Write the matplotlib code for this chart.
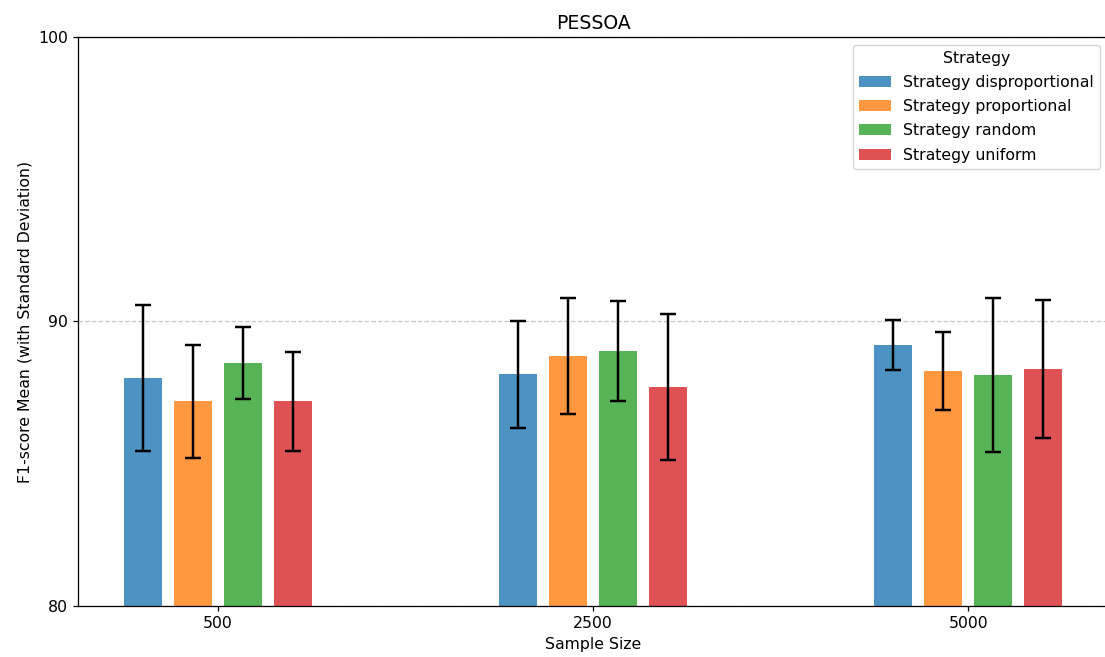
import matplotlib
matplotlib.use("Agg")
import matplotlib.pyplot as plt
import numpy as np

sample_sizes = ["500", "2500", "5000"]
strategies = ["Strategy disproportional", "Strategy proportional", "Strategy random", "Strategy uniform"]
means = {
    "Strategy disproportional": [88.02, 88.15, 89.17],
    "Strategy proportional": [87.20, 88.79, 88.26],
    "Strategy random": [88.54, 88.96, 88.12],
    "Strategy uniform": [87.20, 87.70, 88.33],
}
stds = {
    "Strategy disproportional": [2.56, 1.88, 0.88],
    "Strategy proportional": [1.99, 2.04, 1.37],
    "Strategy random": [1.25, 1.76, 2.71],
    "Strategy uniform": [1.74, 2.58, 2.43],
}
colors = ["#1f77b4", "#ff7f0e", "#2ca02c", "#d62728"]

s = 1.13
fig = plt.figure(figsize=(11.05, 6.57), dpi=100)
ax = fig.add_axes([78 / 1105, 1 - 606 / 657, (1108 - 78) / 1105, (606 - 37) / 657])

x = np.arange(len(sample_sizes))
width = 0.1
step = 0.1333
for i, strat in enumerate(strategies):
    pos = x + (i - 1.5) * step
    ax.bar(pos, means[strat], width, yerr=stds[strat], color=colors[i], alpha=0.8,
           label=strat, capsize=5 * 1.18,
           error_kw=dict(ecolor="black", elinewidth=1.5 * 1.18, capthick=1.5 * 1.18))

ax.set_ylim(80, 100)
ax.set_yticks([80, 90, 100])
ax.set_xlim(-0.373, 2.373)
ax.set_xticks(x)
ax.set_xticklabels(sample_sizes)
ax.tick_params(labelsize=10 * s, width=0.8 * s, length=3.5 * s)
for sp in ax.spines.values():
    sp.set_linewidth(0.8 * s)
ax.yaxis.grid(True, linestyle="--", color="#b0b0b0", alpha=0.7, linewidth=0.8 * s)
ax.set_axisbelow(True)
ax.set_xlabel("Sample Size", fontsize=10 * s)
ax.set_ylabel("F1-score Mean (with Standard Deviation)", fontsize=10 * s)
ax.set_title("PESSOA", fontsize=12 * s)
leg = ax.legend(title="Strategy", loc="upper right", fontsize=10 * s, title_fontsize=10 * s,
                labelspacing=0.58)
fig.savefig("out.png", dpi=100)
